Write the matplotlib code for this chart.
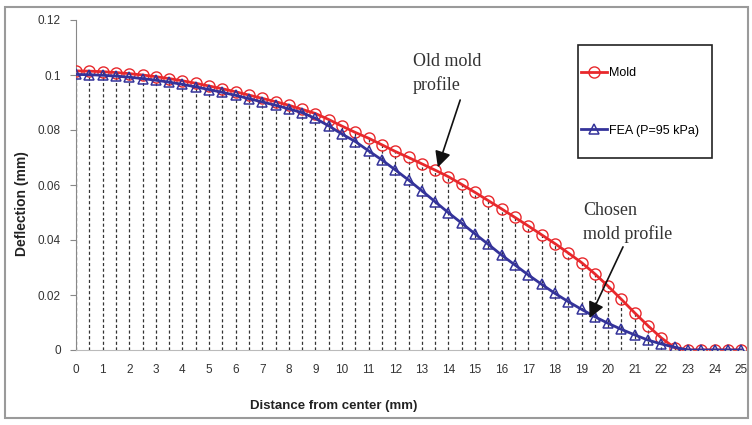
import numpy as np
import matplotlib.pyplot as plt
from matplotlib.patches import Rectangle

# Datos (cada 0.5 mm)
distancia = np.arange(0, 25.01, 0.5)

mold = [0.1015, 0.1014, 0.1012, 0.1009, 0.1005, 0.1000, 0.0994, 0.0987, 0.0979, 0.0970,
        0.0960, 0.0950, 0.0939, 0.0927, 0.0915, 0.0903, 0.0890, 0.0875, 0.0860, 0.0838,
        0.0814, 0.0791, 0.0770, 0.0746, 0.0722, 0.0700, 0.0677, 0.0654, 0.0630, 0.0602,
        0.0573, 0.0543, 0.0513, 0.0482, 0.0451, 0.0419, 0.0387, 0.0353, 0.0318, 0.0277,
        0.0232, 0.0184, 0.0135, 0.0088, 0.0044, 0.0008, 0.0, 0.0, 0.0, 0.0, 0.0]

fea = [0.1002, 0.1001, 0.0999, 0.0996, 0.0992, 0.0987, 0.0981, 0.0974, 0.0966, 0.0957,
       0.0947, 0.0937, 0.0926, 0.0914, 0.0902, 0.0890, 0.0877, 0.0863, 0.0842, 0.0815,
       0.0785, 0.0758, 0.0724, 0.0691, 0.0655, 0.0618, 0.0579, 0.0539, 0.0499, 0.0461,
       0.0422, 0.0384, 0.0345, 0.0309, 0.0273, 0.0239, 0.0206, 0.0176, 0.0148, 0.0121,
       0.0097, 0.0075, 0.0055, 0.0036, 0.0022, 0.0010, 0.0, 0.0, 0.0, 0.0, 0.0]

x_ticks = list(range(0, 26))
y_ticks = [0, 0.02, 0.04, 0.06, 0.08, 0.1, 0.12]
y_labels = ['0', '0.02', '0.04', '0.06', '0.08', '0.1', '0.12']

sans = ['Liberation Sans', 'DejaVu Sans']
serif = ['Liberation Serif', 'DejaVu Serif']

rojo = '#e8282c'
azul = '#34339a'

fig = plt.figure(figsize=(7.52, 4.25), dpi=100)
ax = fig.add_axes([76 / 752, 1 - 350 / 425, 671 / 752, 330 / 425])

# Lineas de caida (drop lines) hasta el valor mas alto
tope = np.maximum(mold, fea)
ax.vlines(distancia, 0, tope, colors='#333333', linestyles=(0, (2.5, 2)), linewidth=0.9, zorder=1)

ax.plot(distancia, mold, color=rojo, lw=2, marker='o', ms=8, mfc='none', mec=rojo, mew=1,
        label='Mold', zorder=3)
ax.plot(distancia, fea, color=azul, lw=2, marker='^', ms=7, mfc='none', mec=azul, mew=1.1,
        label='FEA (P=95 kPa)', zorder=4)

ax.set_xlim(0, 25.22)
ax.set_ylim(0, 0.12)
ax.set_xticks(x_ticks)
ax.set_xticklabels([str(t) for t in x_ticks], family=sans, fontsize=8.5, color='#333333')
ax.set_yticks(y_ticks)
ax.set_yticklabels(y_labels, family=sans, fontsize=8.5, color='#333333')
ax.tick_params(axis='x', length=0, pad=10)
ax.tick_params(axis='y', length=4, direction='out', color='#888888', pad=7)

for lado in ['top', 'right']:
    ax.spines[lado].set_visible(False)
ax.spines['left'].set_color('#888888')
ax.spines['bottom'].set_color('#bbbbbb')

fig.text(334 / 752, 1 - 406 / 425, 'Distance from center (mm)', ha='center', va='center',
         family=sans, fontweight='bold', fontsize=9.5, color='#222222')
fig.text(22 / 752, 1 - 204 / 425, 'Deflection (mm)', ha='center', va='center', rotation=90,
         family=sans, fontweight='bold', fontsize=10, color='#222222')

# Leyenda sin marco; el marco se dibuja aparte
leg = ax.legend(loc='upper left', bbox_to_anchor=((581 - 76) / 671, (350 - 67) / 330),
                prop={'family': sans, 'size': 9}, frameon=False,
                handlelength=2.1, handletextpad=0.15, labelspacing=3.65,
                borderpad=0, borderaxespad=0)
ax.add_patch(Rectangle(((578 - 76) / 671, (350 - 158) / 330), 134 / 671, 113 / 330,
                       transform=ax.transAxes, fill=False, edgecolor='#222222',
                       linewidth=1.2, clip_on=False, zorder=7))

flecha = dict(arrowstyle='-|>', color='#111111', lw=1.2, mutation_scale=24, shrinkA=0, shrinkB=0)
ax.annotate('', xy=(13.6, 0.0664), xytext=(14.44, 0.0909), arrowprops=flecha, zorder=6)
ax.text(12.65, 0.1005, 'Old mold\nprofile', family=serif, fontsize=13, color='#333333',
        ha='left', va='center', linespacing=1.45)

ax.annotate('', xy=(19.3, 0.0116), xytext=(20.56, 0.0375), arrowprops=flecha, zorder=6)
ax.text(19.05, 0.0465, 'Chosen\nmold profile', family=serif, fontsize=13, color='#333333',
        ha='left', va='center', linespacing=1.45)

fig.patches.append(Rectangle((5 / 752, 7 / 425), 743 / 752, 411 / 425, transform=fig.transFigure,
                             fill=False, edgecolor='#9a9a9a', linewidth=1.5))

fig.savefig('out.png', dpi=100)
